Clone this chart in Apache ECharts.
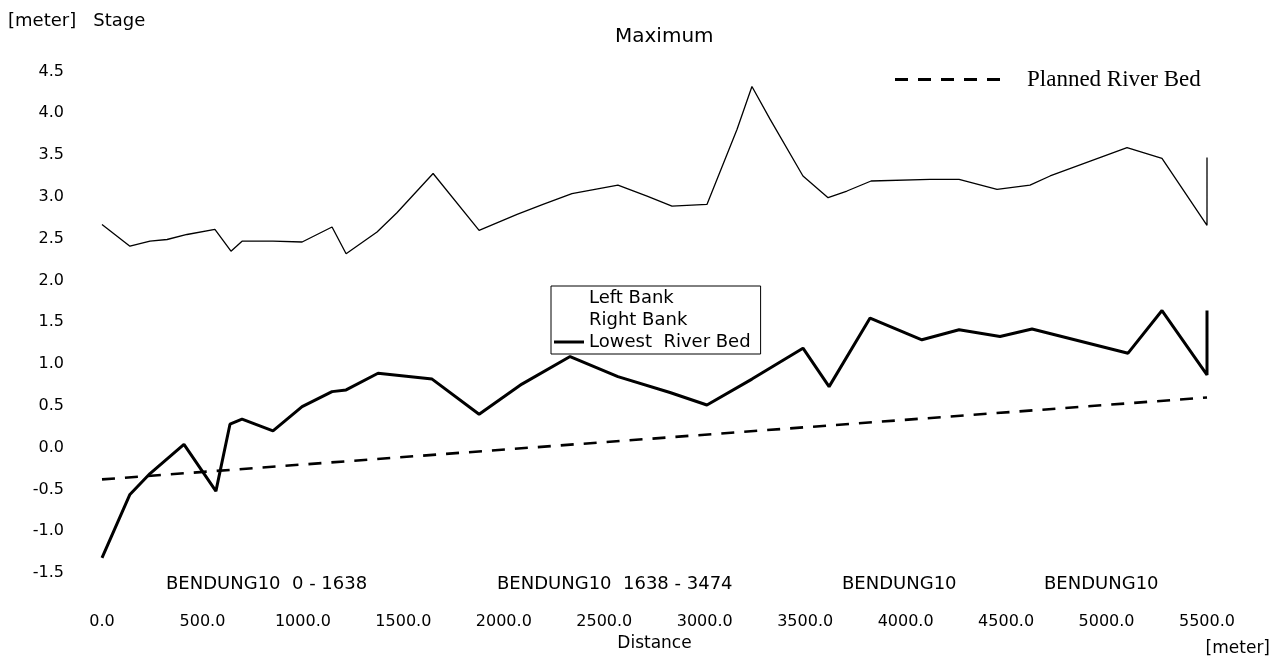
<!DOCTYPE html>
<html>
<head>
<meta charset="utf-8">
<script src="https://cdn.jsdelivr.net/npm/echarts@6/dist/echarts.min.js"></script>
<style>html,body{margin:0;padding:0;background:#fff;overflow:hidden;width:1275px;height:657px}#c{width:1275px;height:657px}</style>
</head>
<body>
<div id="c"></div>
<script>
// Distance [meter] of the cross sections
var distStage = [0,139,239,324,423,562,642,697,851,996,1145,1215,1369,1468,1648,1877,2066,2195,2339,2568,2713,2837,3011,3161,3235,3325,3489,3614,3708,3828,4121,4266,4455,4619,4719,5102,5276,5500,5500];
// Maximum water stage [meter]
var maxStage = [2.67,2.41,2.47,2.49,2.55,2.61,2.35,2.47,2.47,2.46,2.64,2.32,2.58,2.81,3.28,2.60,2.79,2.91,3.04,3.14,3.01,2.89,2.91,3.81,4.32,3.93,3.25,2.99,3.07,3.19,3.21,3.21,3.09,3.14,3.25,3.59,3.46,2.66,3.47];
// Lowest river bed
var distBed = [0,139,239,408,567,637,697,851,996,1145,1215,1374,1643,1877,2090,2330,2568,2827,3011,3235,3489,3619,3823,4081,4266,4470,4629,5107,5276,5500,5500];
var lowestBed = [-1.32,-0.56,-0.31,0.04,-0.52,0.28,0.34,0.20,0.49,0.67,0.69,0.89,0.82,0.40,0.76,1.09,0.85,0.66,0.51,0.82,1.19,0.73,1.55,1.29,1.41,1.33,1.42,1.13,1.64,0.87,1.64];
// Planned river bed
var distPlan = [0,5500];
var plannedBed = [-0.38,0.60];
// Section labels
var sectionLabels = ['BENDUNG10  0 - 1638','BENDUNG10  1638 - 3474','BENDUNG10','BENDUNG10'];
var sectionLeft = [166,497,842,1044];

function pairs(xs, ys){ return xs.map(function(x,i){ return [x, ys[i]]; }); }

var SANS = 'DejaVu Sans';
var DASH_ICON = 'path://M0 0h13v3h-13z M23 0h13v3h-13z M46 0h13v3h-13z M69 0h13v3h-13z M92 0h13v3h-13z';
var chart = echarts.init(document.getElementById('c'), null, {width:1275, height:657});
var graphics = sectionLabels.map(function(t,i){
  return {type:'text', left: sectionLeft[i], top: 575, style:{text:t, font:'18px "DejaVu Sans"', fill:'#000'}};
});
graphics.push({type:'text', left: 8, top: 12, style:{text:'[meter]   Stage', font:'18px "DejaVu Sans"', fill:'#000'}});
graphics.push({type:'text', right: 5, top: 640, style:{text:'[meter]', font:'17px "DejaVu Sans"', fill:'#000'}});

chart.setOption({
  animation:false,
  backgroundColor:'#fff',
  title:{text:'Maximum', left:610, top:22, textStyle:{fontFamily:SANS, fontSize:20, fontWeight:'normal', color:'#000'}},
  grid:{left:102, right:68, top:71.5, bottom:75.5},
  legend:[
    {data:[{name:'Planned River Bed', icon:DASH_ICON}], left:895, top:68, padding:0, itemWidth:105, itemHeight:3,
     textStyle:{fontFamily:'Liberation Serif', fontSize:23, color:'#000', padding:[0,0,0,22]}},
    {data:[{name:'Left Bank', icon:'rect'},{name:'Right Bank', icon:'rect'},{name:'Lowest  River Bed', icon:'rect'}],
     orient:'vertical', left:551, top:286,
     itemWidth:30, itemHeight:3, itemGap:4, padding:[3,10,3,3], borderColor:'#000', borderWidth:1,
     textStyle:{fontFamily:SANS, fontSize:18, lineHeight:18, color:'#000'}}
  ],
  xAxis:{type:'value', min:0, max:5500, interval:500,
    name:'Distance', nameLocation:'middle', nameGap:62,
    nameTextStyle:{fontFamily:SANS, fontSize:17, color:'#000'},
    axisLine:{show:false}, axisTick:{show:false}, splitLine:{show:false},
    axisLabel:{margin:41, fontFamily:SANS, fontSize:16, color:'#000', formatter:function(v){return v.toFixed(1);}}},
  yAxis:{type:'value', min:-1.5, max:4.5, interval:0.5,
    axisLine:{show:false}, axisTick:{show:false}, splitLine:{show:false},
    axisLabel:{margin:38, fontFamily:SANS, fontSize:16, color:'#000', formatter:function(v){return v.toFixed(1);}}},
  graphic: graphics,
  series:[
    {name:'Maximum Stage', type:'line', symbol:'none', data:pairs(distStage,maxStage),
     lineStyle:{color:'#000', width:1.3}, itemStyle:{color:'#000'}},
    {name:'Left Bank', type:'line', symbol:'none', data:[], lineStyle:{color:'#fff', width:1}, itemStyle:{color:'#fff'}},
    {name:'Right Bank', type:'line', symbol:'none', data:[], lineStyle:{color:'#fff', width:1}, itemStyle:{color:'#fff'}},
    {name:'Lowest  River Bed', type:'line', symbol:'none', data:pairs(distBed,lowestBed),
     lineStyle:{color:'#000', width:3}, itemStyle:{color:'#000'}},
    {name:'Planned River Bed', type:'line', symbol:'none', data:pairs(distPlan,plannedBed),
     lineStyle:{color:'#000', width:2.6, type:[13,10]}, itemStyle:{color:'#000'}}
  ]
});
</script>
</body>
</html>
